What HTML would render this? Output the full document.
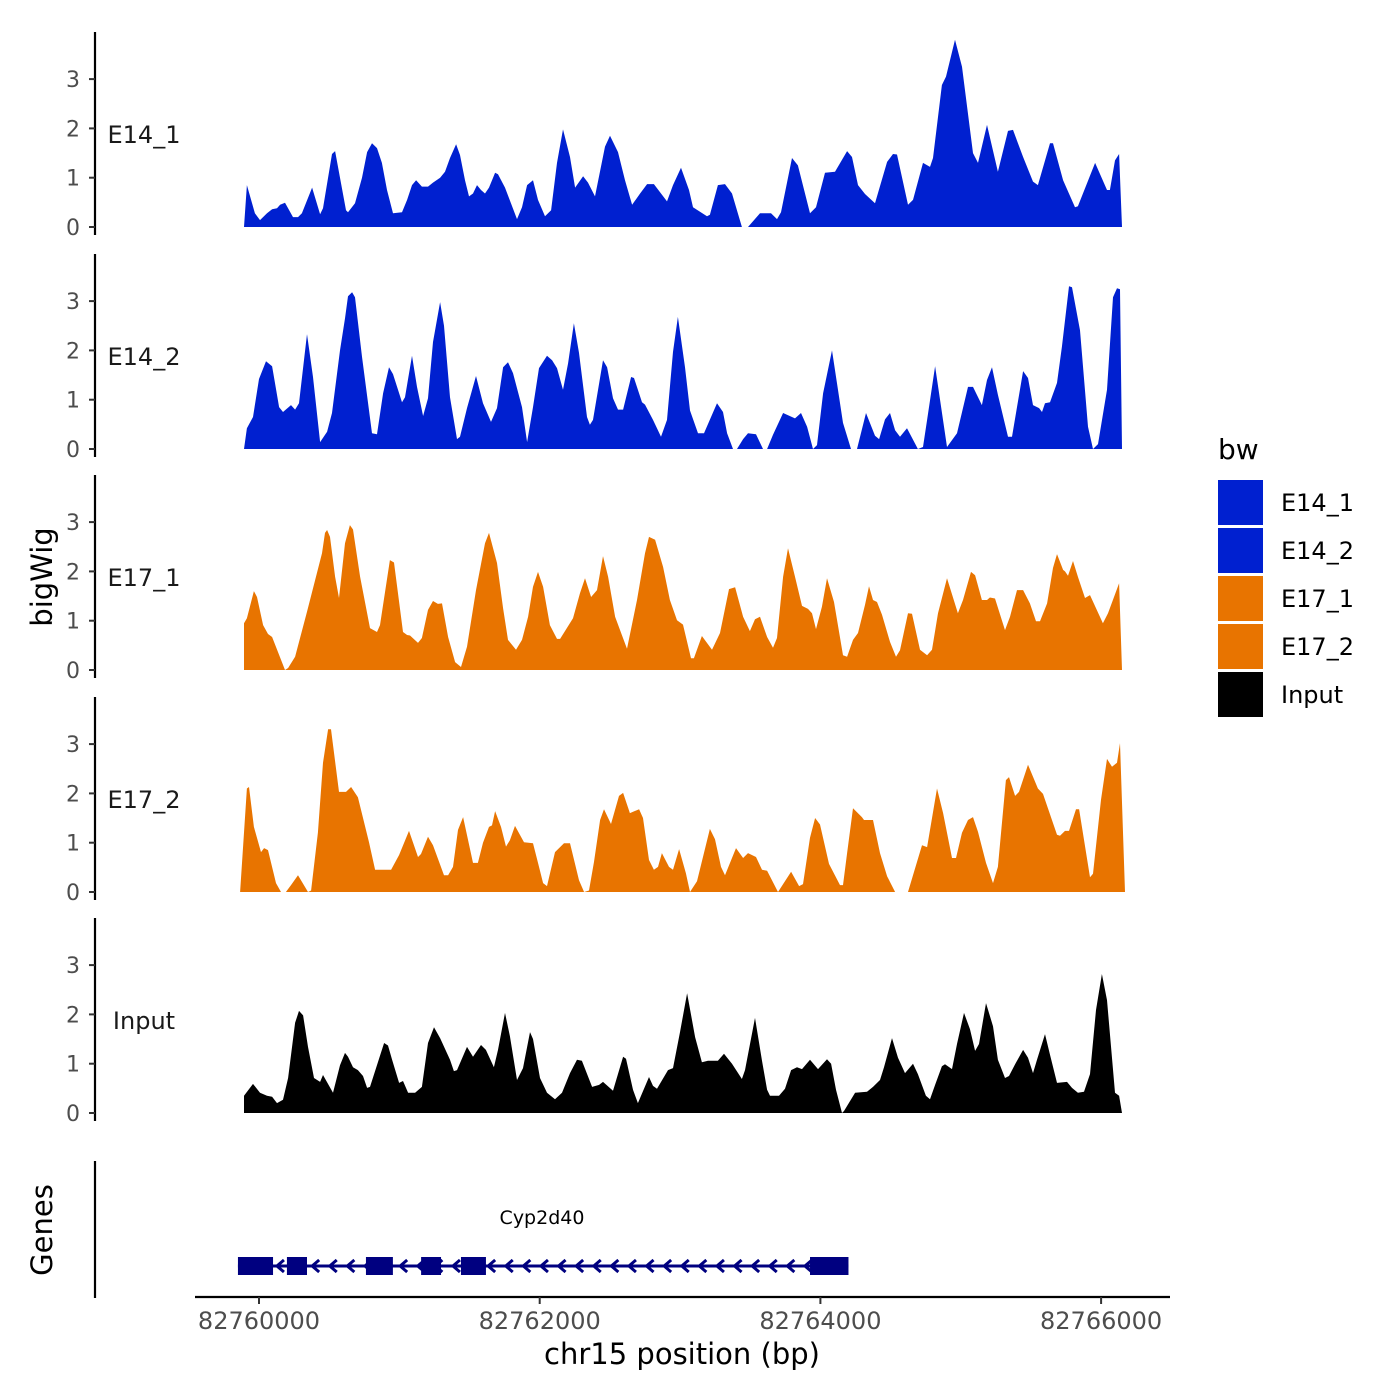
<!DOCTYPE html>
<html><head><meta charset="utf-8">
<style>
html,body{margin:0;padding:0;background:#fff;}
svg{display:block;font-family:"DejaVu Sans","Liberation Sans",sans-serif;}
</style></head>
<body>
<svg id="chart" width="1400" height="1400" viewBox="0 0 1400 1400" xmlns="http://www.w3.org/2000/svg">
<rect x="0" y="0" width="1400" height="1400" fill="#fff"/>
<g id="tracks"></g>
<g id="genes"></g>
<g id="axes"></g>
<text x="0" y="0" transform="translate(52,577) rotate(-90)" text-anchor="middle" font-size="29" fill="#000">bigWig</text>
<text x="0" y="0" transform="translate(52,1230) rotate(-90)" text-anchor="middle" font-size="29" fill="#000">Genes</text>
<text x="682" y="1364" text-anchor="middle" font-size="29" fill="#000">chr15 position (bp)</text>
<g id="legend">
<text x="1218" y="459" font-size="28" fill="#000">bw</text>
</g>
</svg>
<script>
const regionStart = 82760000;
const trackNames = ["E14_1","E14_2","E17_1","E17_2","Input"];
const trackColors = ["#0020d0","#0020d0","#e87400","#e87400","#000000"];
const xTicks = [82760000, 82762000, 82764000, 82766000];
const yTicks = [0,1,2,3];

const e14_1_pos = [-107,-86,-29,7,57,93,128,150,185,242,278,306,378,435,456,520,542,577,620,634,684,734,770,805,841,876,912,955,1019,1055,1090,1119,1161,1204,1240,1290,1325,1361,1404,1432,1468,1496,1525,1553,1582,1610,1639,1682,1703,1753,1838,1874,1910,1952,1988,2038,2081,2123,2166,2216,2252,2309,2344,2394,2465,2501,2558,2608,2658,2715,2765,2814,2907,2950,3007,3064,3092,3192,3213,3270,3320,3370,3441,3484,3570,3648,3691,3719,3798,3840,3926,3969,4033,4104,4190,4225,4268,4318,4389,4475,4517,4546,4624,4660,4731,4781,4802,4866,4895,4959,5009,5087,5123,5187,5265,5337,5372,5444,5515,5550,5636,5657,5729,5814,5835,5957,6042,6063,6099,6128,6149];
const e14_1_val = [0,0.85,0.28,0.14,0.28,0.36,0.38,0.45,0.49,0.2,0.2,0.28,0.8,0.26,0.38,1.48,1.54,1.0,0.34,0.3,0.48,1.0,1.52,1.7,1.6,1.3,0.75,0.28,0.3,0.55,0.85,0.95,0.82,0.82,0.9,1.0,1.12,1.4,1.68,1.46,0.95,0.62,0.68,0.85,0.75,0.68,0.8,1.1,1.07,0.8,0.16,0.4,0.85,0.95,0.55,0.22,0.34,1.3,1.98,1.42,0.8,1.03,0.9,0.62,1.63,1.85,1.52,0.95,0.45,0.68,0.87,0.87,0.52,0.85,1.2,0.75,0.4,0.22,0.25,0.85,0.87,0.68,0,0,0.28,0.28,0.16,0.3,1.4,1.25,0.28,0.4,1.1,1.12,1.54,1.42,0.85,0.67,0.48,1.32,1.48,1.47,0.45,0.55,1.3,1.22,1.4,2.88,3.05,3.8,3.25,1.5,1.3,2.07,1.12,1.95,1.97,1.42,0.92,0.85,1.7,1.7,0.95,0.4,0.42,1.3,0.75,0.75,1.35,1.48,0];

const e14_2_pos = [-107,-86,-43,0,50,93,143,171,228,257,285,342,385,435,485,520,577,613,634,663,684,734,805,841,884,926,955,1019,1040,1090,1126,1169,1204,1240,1290,1318,1361,1411,1432,1482,1546,1596,1653,1696,1739,1774,1810,1874,1910,1952,1995,2052,2088,2123,2166,2202,2244,2280,2337,2358,2380,2451,2480,2522,2558,2594,2651,2672,2729,2750,2807,2864,2907,2950,2985,3035,3071,3128,3171,3263,3306,3335,3377,3406,3449,3484,3541,3591,3620,3662,3734,3819,3862,3905,3947,3976,4019,4083,4161,4218,4261,4325,4389,4418,4460,4496,4532,4567,4617,4695,4731,4760,4817,4902,4973,5052,5087,5151,5187,5223,5265,5337,5365,5444,5479,5515,5558,5579,5600,5636,5686,5721,5771,5793,5850,5907,5942,5978,6042,6085,6113,6135,6149];
const e14_2_val = [0,0.42,0.65,1.42,1.78,1.68,0.85,0.75,0.89,0.8,0.93,2.33,1.46,0.14,0.35,0.73,2.0,2.65,3.1,3.18,3.08,1.87,0.32,0.3,1.13,1.66,1.52,0.95,1.05,1.89,1.26,0.67,1.03,2.17,2.98,2.5,1.05,0.2,0.25,0.83,1.48,0.93,0.55,0.83,1.66,1.76,1.54,0.85,0.14,0.85,1.64,1.89,1.8,1.64,1.2,1.74,2.55,1.95,0.65,0.49,0.59,1.8,1.66,1.03,0.8,0.8,1.46,1.44,0.95,0.9,0.59,0.25,0.59,1.97,2.68,1.66,0.78,0.32,0.32,0.93,0.75,0.32,0,0,0.2,0.32,0.3,0,0,0.29,0.73,0.62,0.73,0.45,0,0.08,1.13,2.0,0.53,0,0,0.73,0.27,0.2,0.6,0.73,0.38,0.25,0.42,0,0.04,0.59,1.68,0.04,0.32,1.26,1.26,0.89,1.4,1.66,1.1,0.25,0.25,1.58,1.44,0.89,0.83,0.75,0.93,0.95,1.34,2.07,3.3,3.28,2.41,0.45,0,0.1,1.2,3.08,3.26,3.24,0];

const e17_1_pos = [-107,-86,-36,-14,29,64,93,185,207,257,342,449,470,485,506,542,570,613,648,670,720,791,841,862,933,962,1026,1055,1076,1133,1161,1204,1240,1275,1304,1347,1397,1439,1482,1546,1610,1639,1696,1739,1774,1831,1874,1917,1952,1988,2024,2073,2123,2145,2237,2287,2323,2366,2408,2451,2487,2537,2622,2693,2750,2779,2822,2879,2928,2978,3021,3078,3099,3156,3228,3285,3349,3392,3449,3498,3534,3570,3620,3662,3691,3734,3769,3819,3869,3912,3940,3969,4011,4047,4097,4161,4190,4232,4268,4318,4346,4375,4403,4439,4496,4539,4567,4624,4653,4710,4760,4795,4838,4902,4980,5016,5073,5102,5151,5187,5208,5244,5315,5351,5401,5444,5493,5536,5565,5615,5657,5686,5729,5743,5764,5800,5835,5885,5921,6013,6049,6128,6149];
const e17_1_val = [0.95,1.05,1.6,1.48,0.91,0.73,0.67,0,0.04,0.27,1.18,2.37,2.78,2.84,2.7,1.89,1.46,2.57,2.94,2.85,1.89,0.85,0.77,0.91,2.23,2.18,0.77,0.71,0.7,0.55,0.65,1.22,1.4,1.34,1.35,0.67,0.16,0.06,0.47,1.62,2.57,2.78,2.17,1.25,0.61,0.41,0.61,1.08,1.69,1.99,1.69,0.91,0.63,0.63,1.05,1.56,1.86,1.48,1.62,2.31,1.89,1.08,0.43,1.42,2.37,2.7,2.64,2.09,1.42,1.01,0.92,0.24,0.24,0.69,0.41,0.75,1.64,1.68,1.08,0.79,1.03,1.08,0.67,0.45,0.65,1.89,2.47,1.89,1.3,1.24,1.15,0.83,1.28,1.86,1.38,0.3,0.27,0.61,0.75,1.32,1.7,1.42,1.38,1.12,0.57,0.27,0.4,1.15,1.14,0.41,0.3,0.41,1.15,1.86,1.15,1.42,1.99,1.92,1.42,1.42,1.47,1.45,0.81,1.08,1.62,1.62,1.35,0.99,0.99,1.35,2.07,2.35,2.03,2.0,1.91,2.21,1.89,1.46,1.52,0.95,1.15,1.76,0];

const e17_2_pos = [-135,-86,-71,-36,14,36,64,121,157,192,228,278,349,371,420,456,492,513,570,620,656,705,784,827,941,998,1069,1133,1154,1204,1240,1318,1347,1382,1418,1454,1525,1560,1596,1639,1660,1682,1724,1760,1788,1824,1888,1952,1988,2024,2052,2109,2173,2216,2280,2316,2351,2387,2430,2458,2508,2565,2594,2643,2708,2736,2779,2814,2843,2871,2921,2950,2993,3042,3071,3121,3213,3249,3292,3320,3399,3449,3484,3541,3584,3620,3698,3791,3848,3876,3926,3962,3997,4061,4140,4161,4190,4232,4296,4311,4375,4425,4475,4532,4624,4660,4724,4760,4831,4874,4938,4966,5009,5052,5087,5123,5180,5230,5265,5322,5344,5387,5415,5479,5550,5586,5686,5707,5743,5771,5821,5843,5921,5942,5999,6042,6078,6113,6135,6170];
const e17_2_val = [0,2.1,2.13,1.32,0.81,0.89,0.85,0.18,0,0,0.14,0.34,0,0.03,1.2,2.62,3.3,3.3,2.03,2.03,2.13,1.92,1.01,0.45,0.45,0.75,1.24,0.71,0.77,1.12,0.95,0.34,0.34,0.51,1.26,1.52,0.59,0.59,1.0,1.32,1.35,1.64,1.32,0.92,1.05,1.34,1.01,0.99,0.59,0.18,0.12,0.81,0.99,0.99,0.24,0,0.03,0.61,1.46,1.68,1.38,1.95,2.01,1.6,1.68,1.5,0.65,0.45,0.51,0.79,0.51,0.45,0.87,0.38,0,0.22,1.28,1.07,0.51,0.34,0.89,0.69,0.79,0.71,0.45,0.43,0,0.41,0.12,0.16,1.1,1.5,1.37,0.57,0.14,0.14,0.79,1.7,1.52,1.46,1.46,0.79,0.32,0,0,0.34,0.95,0.91,2.1,1.6,0.69,0.69,1.2,1.46,1.52,1.22,0.59,0.18,0.51,2.27,2.33,1.95,2.03,2.58,2.1,1.99,1.16,1.14,1.24,1.24,1.68,1.68,0.3,0.37,1.87,2.7,2.54,2.62,3.02,0];

const input_pos = [-107,-43,7,57,93,128,171,207,257,285,314,349,392,435,456,527,577,613,634,670,705,741,770,791,891,919,948,998,1026,1062,1112,1161,1204,1247,1290,1361,1389,1411,1482,1525,1582,1617,1674,1703,1753,1788,1838,1881,1931,1952,2002,2052,2109,2159,2216,2266,2301,2373,2423,2451,2522,2594,2615,2665,2700,2779,2807,2836,2914,2950,3000,3050,3107,3156,3199,3270,3313,3370,3441,3463,3534,3584,3620,3641,3705,3748,3791,3833,3869,3926,3983,4047,4076,4111,4154,4168,4247,4332,4375,4425,4453,4510,4553,4603,4660,4695,4752,4781,4817,4866,4888,4938,4973,5023,5066,5102,5130,5180,5230,5265,5315,5344,5387,5444,5479,5515,5543,5600,5636,5686,5757,5793,5835,5878,5921,5964,6006,6042,6099,6128,6149];
const input_val = [0.35,0.59,0.41,0.35,0.33,0.2,0.27,0.71,1.83,2.07,1.98,1.34,0.71,0.63,0.77,0.41,0.97,1.22,1.14,0.93,0.87,0.75,0.51,0.53,1.42,1.37,1.08,0.61,0.65,0.41,0.41,0.53,1.42,1.74,1.52,1.08,0.85,0.87,1.34,1.14,1.38,1.28,0.93,1.28,2.03,1.56,0.67,0.91,1.64,1.5,0.71,0.41,0.28,0.41,0.81,1.08,1.06,0.53,0.57,0.63,0.45,1.14,1.1,0.47,0.2,0.73,0.55,0.49,0.87,0.91,1.64,2.43,1.54,1.03,1.06,1.06,1.2,1.0,0.69,0.87,1.93,1.06,0.47,0.35,0.35,0.49,0.87,0.93,0.89,1.08,0.89,1.09,1.0,0.47,0,0.04,0.41,0.43,0.53,0.67,0.93,1.52,1.12,0.81,1.0,0.79,0.35,0.28,0.57,0.95,0.99,0.89,1.4,2.03,1.7,1.26,1.4,2.23,1.76,1.08,0.71,0.75,0.99,1.28,1.12,0.81,1.08,1.6,1.18,0.61,0.63,0.51,0.41,0.43,0.79,2.09,2.82,2.29,0.41,0.35,0];

const geneName = "Cyp2d40";
const geneStart = -150, geneEnd = 4200;
const exonStarts = [-150, 199, 762, 1155, 1439, 3926];
const exonEnds = [100, 342, 954, 1297, 1617, 4200];

const NS = "http://www.w3.org/2000/svg";
function xs(bp){ return 259 + (bp) * 280.7 / 2000; }
const trackBase = [227, 449, 670, 892, 1113];
const unitPx = 49.3;
function ys(t, v){ return trackBase[t] - v * unitPx; }
function mk(tag, attrs, parent){ const e=document.createElementNS(NS,tag); for(const k in attrs) e.setAttribute(k,attrs[k]); parent.appendChild(e); return e; }

const posArr = [e14_1_pos, e14_2_pos, e17_1_pos, e17_2_pos, input_pos];
const valArr = [e14_1_val, e14_2_val, e17_1_val, e17_2_val, input_val];
const tracksG = document.getElementById('tracks');
const axesG = document.getElementById('axes');

for (let t=0; t<5; t++){
  const pos = posArr[t], val = valArr[t];
  let d = "M" + xs(pos[0]).toFixed(1) + "," + ys(t,0);
  for (let i=0;i<pos.length;i++) d += " L" + xs(pos[i]).toFixed(1) + "," + ys(t,val[i]).toFixed(1);
  d += " L" + xs(pos[pos.length-1]).toFixed(1) + "," + ys(t,0) + " Z";
  const p = mk('path', {d:d, fill:trackColors[t]}, tracksG);
  
  
  const top = trackBase[t] - 195, bot = trackBase[t] + 8;
  const al = mk('line', {x1:95,y1:top,x2:95,y2:bot,stroke:'#000','stroke-width':2.2}, axesG);
  
  
  for (const v of yTicks){
    const y = ys(t,v);
    const tk = mk('line', {x1:89,y1:y,x2:95,y2:y,stroke:'#333','stroke-width':2}, axesG);
    
    
    const tl = mk('text', {x:80,y:y+8,'text-anchor':'end','font-size':22,fill:'#4d4d4d'}, axesG);
    tl.textContent = v;
    
    
  }
  const lab = mk('text', {x:144,y:trackBase[t]-84,'text-anchor':'middle','font-size':24,fill:'#1a1a1a'}, axesG);
  lab.textContent = trackNames[t];
  
  
}

const gG = document.getElementById('genes');
const gl = mk('line', {x1:95,y1:1161,x2:95,y2:1298,stroke:'#000','stroke-width':2.2}, axesG);


const gy = 1266;
const intron = mk('line', {x1:xs(geneStart),y1:gy,x2:xs(geneEnd),y2:gy,stroke:'#000080','stroke-width':3}, gG);


for (let x = xs(geneStart)+39; x < xs(geneEnd)-4; x += 17.6){
  const c = mk('polyline', {points:(x+7)+","+(gy-6)+" "+x+","+gy+" "+(x+7)+","+(gy+6),fill:'none',stroke:'#000080','stroke-width':3}, gG);
  
  
}
for (let i=0;i<exonStarts.length;i++){
  const r = mk('rect', {x:xs(exonStarts[i]),y:gy-9,width:xs(exonEnds[i])-xs(exonStarts[i]),height:18,fill:'#000080'}, gG);
  
  
}
const gt = mk('text', {x:542,y:1224,'text-anchor':'middle','font-size':19,fill:'#000'}, gG);
gt.textContent = geneName;



const xl = mk('line', {x1:195,y1:1297,x2:1170,y2:1297,stroke:'#000','stroke-width':2.2}, axesG);


for (const b of xTicks){
  const x = xs(b - regionStart);
  const tk = mk('line', {x1:x,y1:1297,x2:x,y2:1304,stroke:'#333','stroke-width':2}, axesG);
  
  
  const tl = mk('text', {x:x,y:1329,'text-anchor':'middle','font-size':24,fill:'#4d4d4d'}, axesG);
  tl.textContent = b;
  
  
}

const lg = document.getElementById('legend');
for (let i=0;i<5;i++){
  const y = 480 + i*48;
  const r = mk('rect', {x:1218,y:y,width:45,height:45,fill:trackColors[i]}, lg);
  
  
  const t = mk('text', {x:1281,y:y+31,'font-size':24,fill:'#000'}, lg);
  t.textContent = trackNames[i];
  
  
}
</script>
</body></html>
